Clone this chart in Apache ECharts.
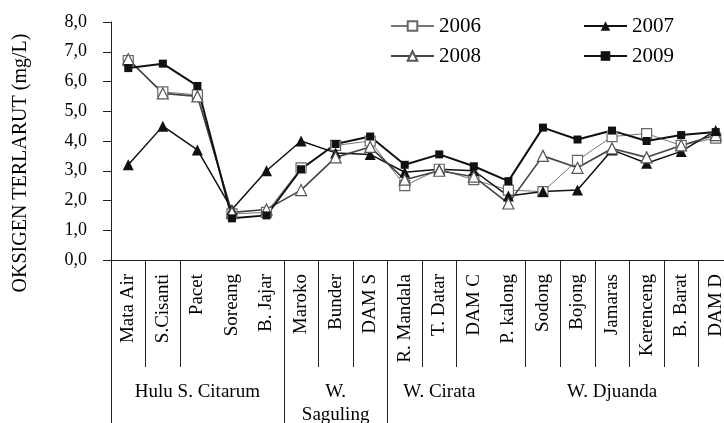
<!DOCTYPE html>
<html>
<head>
<meta charset="utf-8">
<script src="https://cdn.jsdelivr.net/npm/echarts@6/dist/echarts.min.js"></script>
<style>
  html, body { margin: 0; padding: 0; background: #fff; }
  #chart { width: 724px; height: 423px; }
</style>
</head>
<body>
<div id="chart"></div>
<script>
// lokasi pengukuran
const stations = ['Mata Air', 'S.Cisanti', 'Pacet', 'Soreang', 'B. Jajar', 'Maroko', 'Bunder', 'DAM S',
  'R. Mandala', 'T. Datar', 'DAM C', 'P. kalong', 'Sodong', 'Bojong', 'Jamaras', 'Kerenceng', 'B. Barat', 'DAM D'];

// kelompok wilayah (nama + jumlah stasiun)
const groupNames = ['Hulu S. Citarum', 'W.\nSaguling', 'W. Cirata', 'W. Djuanda'];
const groupSizes = [5, 3, 3, 7];

// garis pemisah yang tampak pada sumbu
const stationSeparators = [1, 2, 6, 7, 9, 10, 12, 13, 14, 15, 16, 17];
const groupSeparators = [0, 5, 8];

// oksigen terlarut (mg/L)
const do2006 = [6.7, 5.65, 5.55, 1.55, 1.6, 3.1, 3.85, 4.0, 2.5, 3.05, 2.7, 2.35, 2.3, 3.35, 4.15, 4.25, 3.85, 4.1];
const do2007 = [3.2, 4.5, 3.7, 1.7, 3.0, 4.0, 3.6, 3.55, 2.95, 3.05, 3.0, 2.15, 2.3, 2.35, 3.7, 3.25, 3.65, 4.35];
const do2008 = [6.75, 5.6, 5.5, 1.6, 1.7, 2.35, 3.45, 3.8, 2.7, 3.0, 2.8, 1.9, 3.5, 3.1, 3.75, 3.45, 3.85, 4.2];
const do2009 = [6.45, 6.6, 5.85, 1.4, 1.5, 3.05, 3.9, 4.15, 3.2, 3.55, 3.15, 2.65, 4.45, 4.05, 4.35, 4.0, 4.2, 4.3];

const yTicks = [0, 1, 2, 3, 4, 5, 6, 7, 8];

// label kelompok diletakkan di stasiun tengah tiap kelompok
const groupLabels = stations.map(() => '');
let start = 0;
groupSizes.forEach((n, k) => {
  groupLabels[start + Math.floor(n / 2)] = groupNames[k];
  start += n;
});

const FONT = '"Liberation Serif", "DejaVu Serif", serif';

const chart = echarts.init(document.getElementById('chart'));

const option = {
  animation: false,
  backgroundColor: '#fff',
  textStyle: { fontFamily: FONT, color: '#000' },
  grid: { left: 111, top: 22, width: 622, height: 238, outerBoundsMode: 'none', containLabel: false },
  legend: [
    {
      data: ['2006', '2008'],
      orient: 'vertical',
      left: 385, top: 10,
      itemWidth: 43, itemHeight: 12, itemGap: 8,
      textStyle: { fontFamily: FONT, fontSize: 21, color: '#000', lineHeight: 22 }
    },
    {
      data: ['2007', '2009'],
      orient: 'vertical',
      left: 578, top: 10,
      itemWidth: 43, itemHeight: 12, itemGap: 8,
      textStyle: { fontFamily: FONT, fontSize: 21, color: '#000', lineHeight: 22 }
    }
  ],
  xAxis: [
    {
      type: 'category',
      data: stations,
      position: 'bottom',
      axisLine: { show: true, lineStyle: { color: '#222', width: 1 } },
      axisTick: {
        show: true,
        length: 107,
        interval: (i) => stationSeparators.includes(i),
        lineStyle: { color: '#222', width: 1 }
      },
      axisLabel: {
        interval: 0,
        rotate: 90,
        margin: 14,
        fontFamily: FONT,
        fontSize: 19,
        color: '#000'
      },
      splitLine: { show: false }
    },
    {
      type: 'category',
      data: stations,
      position: 'bottom',
      axisLine: { show: false },
      axisTick: {
        show: true,
        length: 170,
        interval: (i) => groupSeparators.includes(i),
        lineStyle: { color: '#222', width: 1 }
      },
      axisLabel: {
        interval: 0,
        margin: 121,
        fontFamily: FONT,
        fontSize: 19,
        lineHeight: 23,
        color: '#000',
        formatter: (v, i) => groupLabels[i]
      },
      splitLine: { show: false }
    }
  ],
  yAxis: {
    type: 'value',
    min: yTicks[0],
    max: yTicks[yTicks.length - 1],
    interval: 1,
    name: 'OKSIGEN TERLARUT (mg/L)',
    nameLocation: 'middle',
    nameGap: 80,
    nameTextStyle: { fontFamily: FONT, fontSize: 20, color: '#000', padding: [0, 44, 0, 0] },
    axisLine: { show: true, lineStyle: { color: '#222', width: 1 } },
    axisTick: { show: true, length: 8, lineStyle: { color: '#222' } },
    axisLabel: {
      margin: 24,
      fontFamily: FONT,
      fontSize: 18,
      color: '#000',
      formatter: (v) => v.toFixed(1).replace('.', ',')
    },
    splitLine: { show: false }
  },
  series: [
    {
      name: '2006',
      type: 'line',
      data: do2006,
      symbol: 'rect',
      symbolSize: 10,
      itemStyle: { color: '#fff', borderColor: '#666', borderWidth: 1.2 },
      lineStyle: { color: '#777', width: 1 }
    },
    {
      name: '2007',
      type: 'line',
      data: do2007,
      symbol: 'triangle',
      symbolSize: 11,
      itemStyle: { color: '#111', borderColor: '#111', borderWidth: 0 },
      lineStyle: { color: '#111', width: 1.5 }
    },
    {
      name: '2008',
      type: 'line',
      data: do2008,
      symbol: 'triangle',
      symbolSize: 11,
      itemStyle: { color: '#fff', borderColor: '#555', borderWidth: 1.2 },
      lineStyle: { color: '#444', width: 1.6 }
    },
    {
      name: '2009',
      type: 'line',
      data: do2009,
      symbol: 'rect',
      symbolSize: 8,
      itemStyle: { color: '#111', borderColor: '#111', borderWidth: 0 },
      lineStyle: { color: '#111', width: 2 }
    }
  ]
};

chart.setOption(option);
</script>
</body>
</html>
